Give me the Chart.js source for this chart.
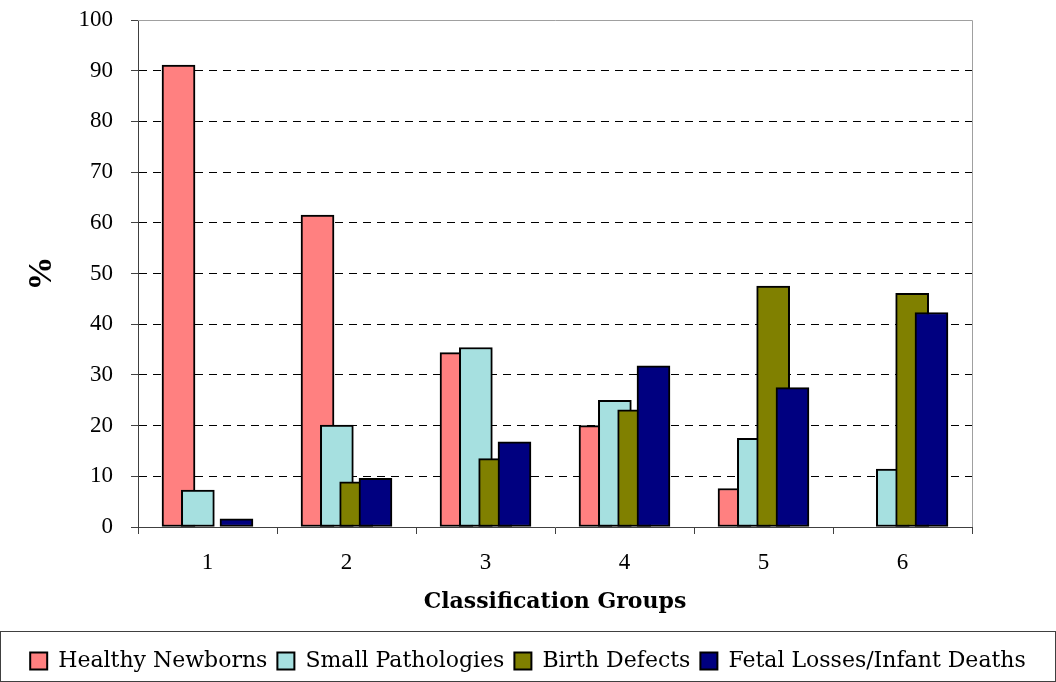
<!DOCTYPE html>
<html>
<head>
<meta charset="utf-8">
<script src="https://cdn.jsdelivr.net/npm/chart.js@4/dist/chart.umd.min.js"></script>
<style>
  html, body { margin: 0; padding: 0; background: #fff; }
  #wrap { width: 1056px; height: 682px; }
</style>
</head>
<body>
<div id="wrap"><canvas id="chart" width="1056" height="682"></canvas></div>
<script>
const groups = ['1', '2', '3', '4', '5', '6'];
const seriesNames = ['Healthy Newborns', 'Small Pathologies', 'Birth Defects', 'Fetal Losses/Infant Deaths'];
const healthy = [91.1, 61.5, 34.4, 20.0, 7.6, null];
const smallPath = [7.3, 20.1, 35.4, 25.0, 17.5, 11.4];
const birthDefects = [null, 8.9, 13.5, 23.1, 47.5, 46.1];
const fetalLosses = [1.6, 9.6, 16.8, 31.8, 27.5, 42.3];
const yTicks = [0, 10, 20, 30, 40, 50, 60, 70, 80, 90, 100];

const fills = ['#FF8080', '#A6E0E0', '#808000', '#000080'];
const seriesValues = [healthy, smallPath, birthDefects, fetalLosses];
// bars overlap in excel style: step is smaller than bar width
const step = 0.139;

const serif = '"Liberation Serif", "DejaVu Serif", serif';
const wideSerif = '"DejaVu Serif", "Liberation Serif", serif';

const datasets = seriesValues.map((vals, s) => ({
  label: seriesNames[s],
  data: vals.map((v, i) => ({ x: i + 1 + (s - 1.5) * step, y: v })),
  backgroundColor: fills[s],
  borderColor: '#000',
  borderWidth: 2,
  borderSkipped: false,
  barThickness: 33,
  grouped: false,
  xAxisID: 'xb',
  order: 4 - s   // later series drawn on top
}));

const frame = {
  id: 'frame',
  afterDraw(chart) {
    const ctx = chart.ctx;
    const a = chart.chartArea;
    ctx.save();
    ctx.strokeStyle = '#a0a0a0';
    ctx.lineWidth = 1;
    ctx.beginPath();
    ctx.moveTo(a.left, a.top + 0.5);
    ctx.lineTo(a.right + 0.5, a.top + 0.5);
    ctx.lineTo(a.right + 0.5, a.bottom);
    ctx.stroke();
    const lg = chart.legend;
    ctx.strokeStyle = '#404040';
    ctx.strokeRect(0.5, lg.top + 0.5, 1055, 682 - lg.top - 1);
    ctx.restore();
  }
};

new Chart(document.getElementById('chart'), {
  type: 'bar',
  data: { labels: groups, datasets: datasets },
  options: {
    responsive: false,
    animation: false,
    layout: { padding: { top: 20, right: 0, left: 0, bottom: 0 } },
    plugins: {
      tooltip: { enabled: false },
      legend: {
        position: 'bottom',
        title: { display: true, text: '', padding: 0, font: { size: 7.5 } },
        labels: {
          sort: (a, b) => a.datasetIndex - b.datasetIndex,
          color: '#000',
          font: { family: wideSerif, size: 22 },
          boxWidth: 17,
          boxHeight: 17,
          padding: 10
        }
      }
    },
    scales: {
      x: {
        type: 'category',
        offset: true,
        afterFit: (s) => { s.height = 104; },
        grid: { offset: true, drawOnChartArea: false, tickLength: 7, color: '#404040' },
        border: { color: '#404040', width: 1 },
        ticks: { color: '#000', font: { family: serif, size: 23 }, padding: 15 },
        title: {
          display: true,
          text: 'Classification Groups',
          color: '#000',
          font: { family: wideSerif, size: 22, weight: 'bold' },
          padding: { top: 0, bottom: 16 }
        }
      },
      xb: {
        type: 'linear',
        display: false,
        offset: false,
        min: 0.5,
        max: 6.5
      },
      y: {
        min: 0,
        max: 100,
        afterFit: (s) => { s.width = 138; s.paddingTop = 0; s.paddingBottom = 0; },
        afterBuildTicks: (s) => { s.ticks = yTicks.map(v => ({ value: v })); },
        grid: { color: '#000', tickLength: 7, tickColor: '#404040', lineWidth: 1 },
        border: { color: '#404040', width: 1, dash: [8, 6] },
        ticks: { color: '#000', font: { family: serif, size: 23 }, padding: 18 },
        title: {
          display: true,
          text: '%',
          color: '#000',
          font: { family: serif, size: 34, weight: 'bold' },
          padding: { top: 22, bottom: 0 }
        }
      },
      // empty right-hand axis, only keeps the margin right of the plot
      yr: {
        position: 'right',
        afterFit: (s) => { s.width = 84; s.paddingTop = 0; s.paddingBottom = 0; },
        grid: { display: false },
        border: { display: false },
        ticks: { display: false }
      }
    }
  },
  plugins: [frame]
});
</script>
</body>
</html>
